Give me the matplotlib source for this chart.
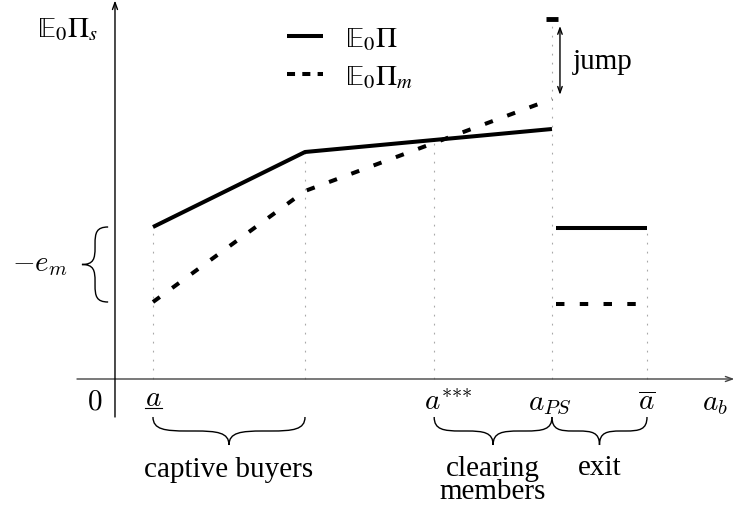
import matplotlib
matplotlib.use("Agg")
import matplotlib.pyplot as plt
from matplotlib.path import Path
from matplotlib.patches import PathPatch
from matplotlib.lines import Line2D
from matplotlib.font_manager import FontProperties

plt.rcParams["mathtext.fontset"] = "cm"
plt.rcParams["font.family"] = ["Liberation Serif", "DejaVu Serif"]

# Thresholds on the a_b axis
a_low = 1.0
a_kink = 5.0
a_star = 8.4
a_ps = 11.5
a_bar = 14.0

# Expected profit of the solid (E0 Pi) and dashed (E0 Pi_m) profiles
seg_x = [a_low, a_kink, a_ps]
profit = [15.2, 22.7, 25.0]
profit_m = [7.7, 18.8, 28.0]

# Profits once the firm exits
exit_x = [a_ps + 0.1, a_bar]
exit_profit = [15.1, 15.1]
exit_profit_m = [7.5, 7.5]

# Value reached at a_PS after the jump
jump_top = 36.0

W, H = 735, 510
fig = plt.figure(figsize=(W / 100, H / 100), dpi=100)
ax = fig.add_axes([0, 0, 1, 1])
ax.set_xlim(-3.026, 16.316)
ax.set_ylim(-13.0, 38.0)
ax.axis("off")

FS = 21
LW = 2.9
DASH = (2.1, 3.8)
GREY = "#a8a8a8"


def interp(xs, ys, x):
    for i in range(len(xs) - 1):
        if xs[i] <= x <= xs[i + 1]:
            t = (x - xs[i]) / (xs[i + 1] - xs[i])
            return ys[i] + t * (ys[i + 1] - ys[i])
    return ys[-1]


# guide lines from the horizontal axis up to the curves
guides = [
    (a_low, profit[0]),
    (a_kink, profit[1]),
    (a_star, interp(seg_x, profit, a_star)),
    (a_ps, jump_top),
    (a_bar, exit_profit[1]),
]
for gx, gy in guides:
    ax.plot([gx, gx], [0, gy], color=GREY, lw=0.8, dashes=(1.6, 6.5), zorder=1)

# axes with arrow heads
ax.annotate("", xy=(16.3, 0), xytext=(-1.0, 0),
            arrowprops=dict(arrowstyle="->,head_length=0.5,head_width=0.18",
                            color="#444444", lw=1.0, shrinkA=0, shrinkB=0))
ax.annotate("", xy=(0, 37.85), xytext=(0, -3.8),
            arrowprops=dict(arrowstyle="->,head_length=0.5,head_width=0.18",
                            color="black", lw=1.0, shrinkA=0, shrinkB=0))

# profit profiles
ax.plot(seg_x, profit, color="black", lw=LW, solid_capstyle="butt", zorder=3)
ax.plot(seg_x, profit_m, color="black", lw=LW, dashes=DASH,
        dash_capstyle="butt", zorder=3)
ax.plot(exit_x, exit_profit, color="black", lw=LW, solid_capstyle="butt", zorder=3)
ax.plot(exit_x, exit_profit_m, color="black", lw=LW, dashes=DASH,
        dash_capstyle="butt", zorder=3)
ax.plot([a_ps], [jump_top], marker="_", ms=8, mew=3.5, color="black", zorder=3)

# jump arrow
ax.annotate("", xy=(a_ps + 0.21, jump_top), xytext=(a_ps + 0.21, profit_m[-1]),
            arrowprops=dict(arrowstyle="<->,head_length=0.45,head_width=0.16",
                            color="black", lw=1.0, shrinkA=3, shrinkB=5))
ax.text(a_ps + 0.55, 31.8, "jump", fontsize=FS, ha="left", va="center")


def brace(x1, y1, x2, y2, depth, **kw):
    """Curly brace between two points, tip pushed out by `depth`
    (horizontal brace: depth in y units; vertical brace: depth in x units)."""
    if y1 == y2:
        m = 0.5 * (x1 + x2)
        h = depth / 2.0
        q = (m - x1) * 0.45
        y0 = y1
        pts = [
            (x1, y0), (x1, y0 - h * 0.9), (x1 + q * 0.35, y0 - h), (x1 + q, y0 - h),
            (m - q, y0 - h),
            (m - q * 0.35, y0 - h), (m, y0 - h * 1.1), (m, y0 - depth),
            (m, y0 - h * 1.1), (m + q * 0.35, y0 - h), (m + q, y0 - h),
            (x2 - q, y0 - h),
            (x2 - q * 0.35, y0 - h), (x2, y0 - h * 0.9), (x2, y0),
        ]
    else:
        m = 0.5 * (y1 + y2)
        h = depth / 2.0
        q = (y2 - m) * 0.45
        x0 = x1
        pts = [
            (x0, y2), (x0 - h * 0.9, y2), (x0 - h, y2 - q * 0.35), (x0 - h, y2 - q),
            (x0 - h, m + q),
            (x0 - h, m + q * 0.35), (x0 - h * 1.1, m), (x0 - depth, m),
            (x0 - h * 1.1, m), (x0 - h, m - q * 0.35), (x0 - h, m - q),
            (x0 - h, y1 + q),
            (x0 - h, y1 + q * 0.35), (x0 - h * 0.9, y1), (x0, y1),
        ]
    codes = [Path.MOVETO, Path.CURVE4, Path.CURVE4, Path.CURVE4, Path.LINETO,
             Path.CURVE4, Path.CURVE4, Path.CURVE4,
             Path.CURVE4, Path.CURVE4, Path.CURVE4, Path.LINETO,
             Path.CURVE4, Path.CURVE4, Path.CURVE4]
    ax.add_patch(PathPatch(Path(pts, codes), fill=False, lw=1.0,
                           color="black", **kw))


# braces under the axis marking the regions
by = -3.8
bd = 2.8
brace(a_low, by, a_kink, by, bd)
brace(a_star, by, a_ps, by, bd)
brace(a_ps, by, a_bar, by, bd)
ax.text(0.5 * (a_low + a_kink), -9.0, "captive buyers", fontsize=FS,
        ha="center", va="center")
ax.text(0.5 * (a_star + a_ps), -10.1, "clearing\nmembers", fontsize=FS,
        ha="center", va="center", linespacing=0.85)
ax.text(0.5 * (a_ps + a_bar), -8.8, "exit", fontsize=FS, ha="center", va="center")

# brace on the vertical axis for the gap e_m
brace(-0.18, profit_m[0], -0.18, profit[0], 0.69)
ax.text(-1.97, 0.5 * (profit[0] + profit_m[0]), r"$-e_m$", fontsize=FS,
        ha="center", va="center")

# tick labels on the horizontal axis
base = -3.0
ax.text(-0.53, base, r"$0$", fontsize=FS, ha="center", va="baseline")
ax.text(a_low + 0.02, base + 0.4, r"$a$", fontsize=FS, ha="center", va="baseline")
ax.plot([a_low - 0.21, a_low + 0.24], [base + 0.15, base + 0.15], color="black", lw=0.8)
ax.text(a_star - 0.27, base, r"$a^{{*}{*}{*}}$", fontsize=FS, ha="left", va="baseline")
ax.text(a_ps - 0.05, base, r"$a_{PS}$", fontsize=FS, ha="center", va="baseline")
ax.text(a_bar, base, r"$\overline{a}$", fontsize=FS, ha="center", va="baseline")
ax.text(15.79, base, r"$a_b$", fontsize=FS, ha="center", va="baseline")

# vertical axis title (upright double-struck E from the STIX math fonts)
ax.text(-1.24, 35.0, r"$\mathrm{\mathbb{E}}_0\Pi_s$", fontsize=FS, ha="center",
        va="center", math_fontfamily="stix")

# legend
handles = [
    Line2D([], [], color="black", lw=LW, solid_capstyle="butt"),
    Line2D([], [], color="black", lw=LW, dashes=(2.0, 1.8), dash_capstyle="butt"),
]
legend_font = FontProperties(family=["Liberation Serif", "DejaVu Serif"], size=FS,
                             math_fontfamily="stix")
ax.legend(handles, [r"$\mathrm{\mathbb{E}}_0\Pi$", r"$\mathrm{\mathbb{E}}_0\Pi_m$"],
          loc="upper left", bbox_to_anchor=(287 / W, 1 - 26 / H),
          bbox_transform=fig.transFigure, frameon=False, prop=legend_font,
          handlelength=1.25, handletextpad=0.75, borderpad=0,
          borderaxespad=0, labelspacing=0.4)

fig.savefig("out.png", dpi=100)
